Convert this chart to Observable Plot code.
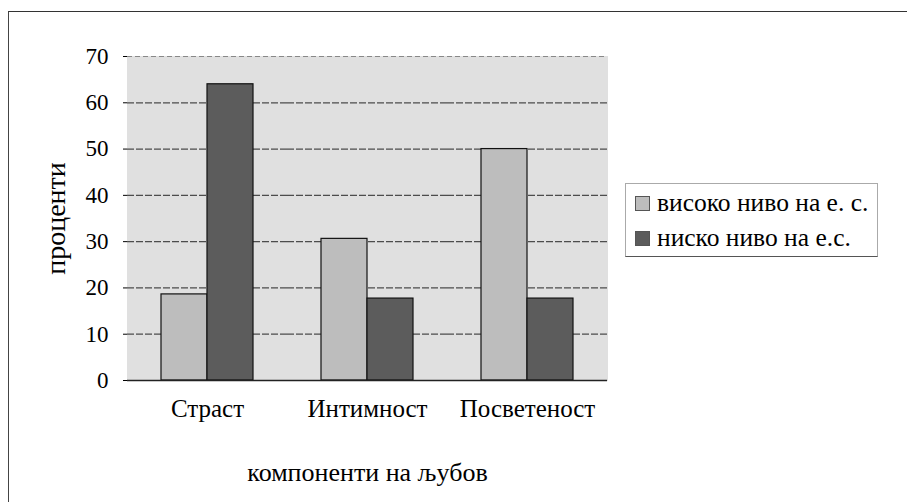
<!DOCTYPE html>
<html>
<head>
<meta charset="utf-8">
<script src="https://cdn.jsdelivr.net/npm/d3@7"></script>
<script src="https://cdn.jsdelivr.net/npm/@observablehq/plot@0.6"></script>
<style>
  html, body { margin: 0; padding: 0; background: #fff; }
  #wrap { position: relative; width: 907px; height: 502px; overflow: hidden; font-family: "Liberation Serif", "Times New Roman", serif; }
  #wrap svg { position: absolute; left: 0; top: 0; }
  #border { position: absolute; left: 8px; top: 11px; width: 905px; height: 500px; border-top: 1.5px solid #333; border-left: 1.5px solid #444; box-sizing: border-box; }
  #legend { position: absolute; left: 625px; top: 183px; width: 253px; height: 74px; box-sizing: border-box;
            border: 1px solid #aaa; border-bottom: 1.5px solid #555; background: #fff; font-size: 25.5px; color: #000; }
  .row { position: absolute; left: 9px; height: 24px; display: flex; align-items: center; white-space: nowrap; }
  .sw { width: 15px; height: 15px; box-sizing: border-box; border: 1px solid #555; margin-right: 7px; }
</style>
</head>
<body>
<div id="wrap"></div>
<script>
const categories = ["Страст", "Интимност", "Посветеност"];
const seriesNames = ["високо ниво на е. с.", "ниско ниво на е.с."];
const highValues = [18.6, 30.6, 50];
const lowValues = [64, 17.7, 17.7];
const yTicks = [0, 10, 20, 30, 40, 50, 60, 70];
const gridTicks = [10, 20, 30, 40, 50, 60];
const seriesColors = ["#bdbdbd", "#5c5c5c"];
const yLabel = "проценти";
const xLabel = "компоненти на љубов";

const data = categories.flatMap((c, i) => [
  {category: c, series: seriesNames[0], value: highValues[i]},
  {category: c, series: seriesNames[1], value: lowValues[i]}
]);

const chart = Plot.plot({
  width: 907,
  height: 502,
  marginLeft: 126,
  marginRight: 300,
  marginTop: 56,
  marginBottom: 122,
  style: {fontFamily: "'Liberation Serif', 'Times New Roman', serif", fontSize: "23px", color: "#000", background: "transparent", overflow: "visible"},
  fx: {domain: categories, padding: 0, label: null},
  x: {domain: seriesNames, paddingInner: 0, paddingOuter: 0.726, axis: null},
  y: {domain: [0, 70], ticks: yTicks, label: null},
  color: {domain: seriesNames, range: seriesColors},
  marks: [
    Plot.frame({fill: "#e0e0e0", stroke: "#e0e0e0"}),
    Plot.gridY(gridTicks, {stroke: "#333", strokeOpacity: 0.85, strokeWidth: 1.2, strokeDasharray: "7,2"}),
    Plot.ruleY([70], {stroke: "#888", strokeDasharray: "5,3"}),
    Plot.barY(data, {fx: "category", x: "series", y: "value", fill: "series", stroke: "#111", strokeWidth: 1.2}),
    Plot.ruleY([0], {stroke: "#222", strokeWidth: 1.3}),
    Plot.axisY({ticks: yTicks, tickSize: 4, tickPadding: 15, fontSize: 23, label: null}),
    Plot.axisY({ticks: [], tickSize: 0, fontSize: 28, label: yLabel, labelAnchor: "center", labelArrow: "none", labelOffset: 82}),
    Plot.axisFx({anchor: "bottom", tickSize: 0, tickPadding: 19, fontSize: 25, label: null}),
    Plot.axisFx({anchor: "bottom", ticks: [], tickSize: 0, fontSize: 26, label: xLabel, labelAnchor: "center", labelArrow: "none", labelOffset: 100})
  ]
});

const wrap = document.getElementById("wrap");
wrap.appendChild(chart);

const border = document.createElement("div");
border.id = "border";
wrap.appendChild(border);

const legend = document.createElement("div");
legend.id = "legend";
seriesNames.forEach((name, i) => {
  const row = document.createElement("div");
  row.className = "row";
  row.style.top = (7 + i * 35) + "px";
  const sw = document.createElement("span");
  sw.className = "sw";
  sw.style.background = seriesColors[i];
  const t = document.createElement("span");
  t.textContent = name;
  row.appendChild(sw);
  row.appendChild(t);
  legend.appendChild(row);
});
wrap.appendChild(legend);
</script>
</body>
</html>
